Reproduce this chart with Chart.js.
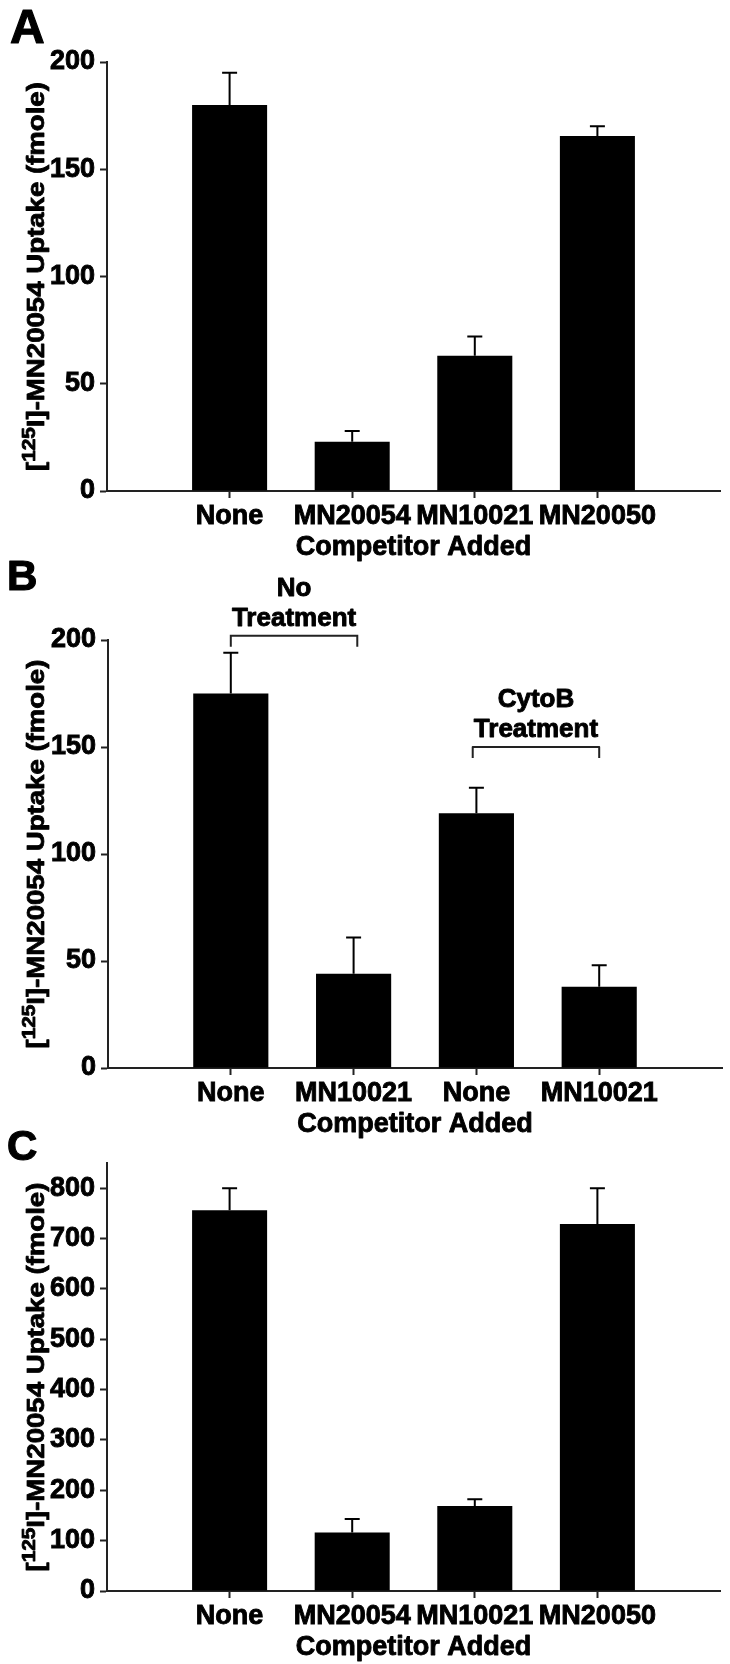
<!DOCTYPE html>
<html>
<head>
<meta charset="utf-8">
<script src="https://cdn.jsdelivr.net/npm/chart.js@4.4.0/dist/chart.umd.min.js"></script>
<style>
  body { margin: 0; background: #fff; }
  #wrap { position: relative; width: 730px; height: 1664px; }
  #wrap canvas { position: absolute; left: 0; }
</style>
</head>
<body>
<div id="wrap">
  <canvas id="chartA" width="730" height="564" style="top:0px"></canvas>
  <canvas id="chartB" width="730" height="591" style="top:550px"></canvas>
  <canvas id="chartC" width="730" height="544" style="top:1120px"></canvas>
</div>
<script>
// panel A
const catsA = ['None', 'MN20054', 'MN10021', 'MN20050'];
const valuesA = [180, 23, 63, 165.5];
const errorsA = [15, 5, 9, 4.5];
const ticksA = [0, 50, 100, 150, 200];

// panel B
const catsB = ['None', 'MN10021', 'None', 'MN10021'];
const valuesB = [175, 44, 119, 38];
const errorsB = [19, 17, 12, 10];
const ticksB = [0, 50, 100, 150, 200];
// brackets over the bars (positions in category index, level in y units)
const bracketTextB = [['No', 'Treatment'], ['CytoB', 'Treatment']];
const bracketFromB = [0, 1.97];
const bracketToB = [1.03, 3];
const bracketLevelB = [202, 150];

// panel C
const catsC = ['None', 'MN20054', 'MN10021', 'MN20050'];
const valuesC = [756, 116, 169, 729];
const errorsC = [44, 27, 13, 71];
const ticksC = [0, 100, 200, 300, 400, 500, 600, 700, 800];

const xTitle = 'Competitor Added';
const FONT = '"Liberation Sans", Arial, Helvetica, sans-serif';
const AXIS = '#222';

// pad an array with an empty slot on each side so the bars sit at 1..4 of 0..5
function pad(arr, fill) { return [fill].concat(arr, [fill]); }

// filled + lightly stroked text, to get the heavy look of the original
function boldText(ctx, t, x, y, w) {
  ctx.lineWidth = w;
  ctx.strokeStyle = '#000';
  ctx.lineJoin = 'round';
  ctx.strokeText(t, x, y);
  ctx.fillText(t, x, y);
}

const decorations = {
  id: 'decorations',
  afterDatasetsDraw(chart, args, o) {
    const ctx = chart.ctx;
    const xs = chart.scales.x, ys = chart.scales.y;
    const meta = chart.getDatasetMeta(0);
    const data = chart.data.datasets[0].data;
    ctx.save();
    // error bars (upper only)
    ctx.strokeStyle = '#000';
    ctx.lineWidth = 2;
    meta.data.forEach((bar, i) => {
      if (data[i] == null) return;
      const top = ys.getPixelForValue(data[i] + o.errors[i]);
      ctx.beginPath();
      ctx.moveTo(bar.x, bar.y);
      ctx.lineTo(bar.x, top);
      ctx.moveTo(bar.x - 7.5, top);
      ctx.lineTo(bar.x + 7.5, top);
      ctx.stroke();
    });
    // brackets with labels
    (o.brackets || []).forEach(b => {
      const x1 = xs.getPixelForValue(b.from + 1), x2 = xs.getPixelForValue(b.to + 1);
      const yy = ys.getPixelForValue(b.level);
      ctx.strokeStyle = AXIS;
      ctx.lineWidth = 2;
      ctx.beginPath();
      ctx.moveTo(x1, yy + 11); ctx.lineTo(x1, yy); ctx.lineTo(x2, yy); ctx.lineTo(x2, yy + 11);
      ctx.stroke();
      ctx.fillStyle = '#000';
      ctx.font = 'bold 26px ' + FONT;
      ctx.textAlign = 'center';
      ctx.textBaseline = 'middle';
      const cx = (x1 + x2) / 2;
      const n = b.text.length;
      b.text.forEach((t, k) => boldText(ctx, t, cx, yy - 17 - (n - 1 - k) * 30, 0.9));
    });
    ctx.restore();
  },
  afterDraw(chart, args, o) {
    const ctx = chart.ctx, area = chart.chartArea;
    ctx.save();
    ctx.fillStyle = '#000';
    // panel letter
    ctx.font = 'bold ' + o.letterSize + 'px ' + FONT;
    ctx.textAlign = 'left';
    ctx.textBaseline = 'alphabetic';
    boldText(ctx, o.letter, o.letterX, o.letterY, 1.2);
    // x axis title
    ctx.font = 'bold 27px ' + FONT;
    ctx.textAlign = 'center';
    ctx.textBaseline = 'middle';
    boldText(ctx, xTitle, (area.left + area.right) / 2, area.bottom + 57, 0.9);
    // y axis title with superscript
    ctx.textAlign = 'left';
    ctx.textBaseline = 'alphabetic';
    const main = 'bold 24px ' + FONT, sup = 'bold 18px ' + FONT;
    const rest = 'I]-MN20054 Uptake (fmole)';
    ctx.font = main;
    const w1 = ctx.measureText('[').width, w3 = ctx.measureText(rest).width;
    ctx.font = sup;
    const w2 = ctx.measureText('125').width;
    const total = w1 + w2 + w3;
    ctx.translate(44, (area.top + area.bottom) / 2);
    ctx.rotate(-Math.PI / 2);
    ctx.scale(1.15, 1);
    let x = -total / 2;
    ctx.font = main; boldText(ctx, '[', x, 0, 0.8); x += w1;
    ctx.font = sup; boldText(ctx, '125', x, -9, 0.8); x += w2;
    ctx.font = main; boldText(ctx, rest, x, 0, 0.8);
    ctx.restore();
  }
};

function makePanel(id, cats, values, errors, yTicks, yMax, padTop, axisLeft, padRight, extra) {
  const labels = pad(cats, '');
  return new Chart(document.getElementById(id), {
    type: 'bar',
    data: {
      labels: labels,
      datasets: [{
        data: pad(values, null),
        backgroundColor: '#000',
        borderWidth: 0,
        categoryPercentage: 1,
        barPercentage: 0.612
      }]
    },
    options: {
      responsive: false,
      animation: false,
      devicePixelRatio: 1,
      layout: { padding: { top: padTop, right: padRight, left: 0, bottom: 0 } },
      plugins: {
        legend: { display: false },
        tooltip: { enabled: false },
        decorations: Object.assign({ errors: pad(errors, null) }, extra)
      },
      scales: {
        x: {
          type: 'category',
          offset: false,
          grid: {
            offset: false,
            drawOnChartArea: false,
            drawTicks: true,
            tickLength: 7,
            tickWidth: 2,
            tickColor: c => (c.tick && c.tick.label) ? AXIS : 'rgba(0,0,0,0)'
          },
          border: { display: true, color: AXIS, width: 2 },
          ticks: {
            autoSkip: false,
            maxRotation: 0,
            padding: 2,
            color: '#000',
            textStrokeColor: '#000',
            textStrokeWidth: 0.9,
            font: { family: FONT, size: 27, weight: 'bold' }
          },
          title: { display: false },
          afterFit: s => { s.height = 73; }
        },
        y: {
          min: 0,
          max: yMax,
          grid: {
            drawOnChartArea: false,
            drawTicks: true,
            tickLength: 7,
            tickWidth: 2,
            tickColor: AXIS
          },
          border: { display: true, color: AXIS, width: 2 },
          afterBuildTicks: s => { s.ticks = yTicks.map(v => ({ value: v })); },
          ticks: {
            padding: 5,
            color: '#000',
            textStrokeColor: '#000',
            textStrokeWidth: 0.9,
            font: { family: FONT, size: 27, weight: 'bold' }
          },
          afterFit: s => { s.width = axisLeft; }
        }
      }
    },
    plugins: [decorations]
  });
}

makePanel('chartA', catsA, valuesA, errorsA, ticksA, 200, 62, 107, 10,
  { letter: 'A', letterSize: 48, letterX: 10, letterY: 43 });

makePanel('chartB', catsB, valuesB, errorsB, ticksB, 200, 90, 108, 8,
  {
    letter: 'B', letterSize: 42, letterX: 7, letterY: 40,
    brackets: bracketTextB.map((t, i) => ({
      text: t, from: bracketFromB[i], to: bracketToB[i], level: bracketLevelB[i]
    }))
  });

makePanel('chartC', catsC, valuesC, errorsC, ticksC, 850, 43, 107, 10,
  { letter: 'C', letterSize: 42, letterX: 7, letterY: 40 });
</script>
</body>
</html>
